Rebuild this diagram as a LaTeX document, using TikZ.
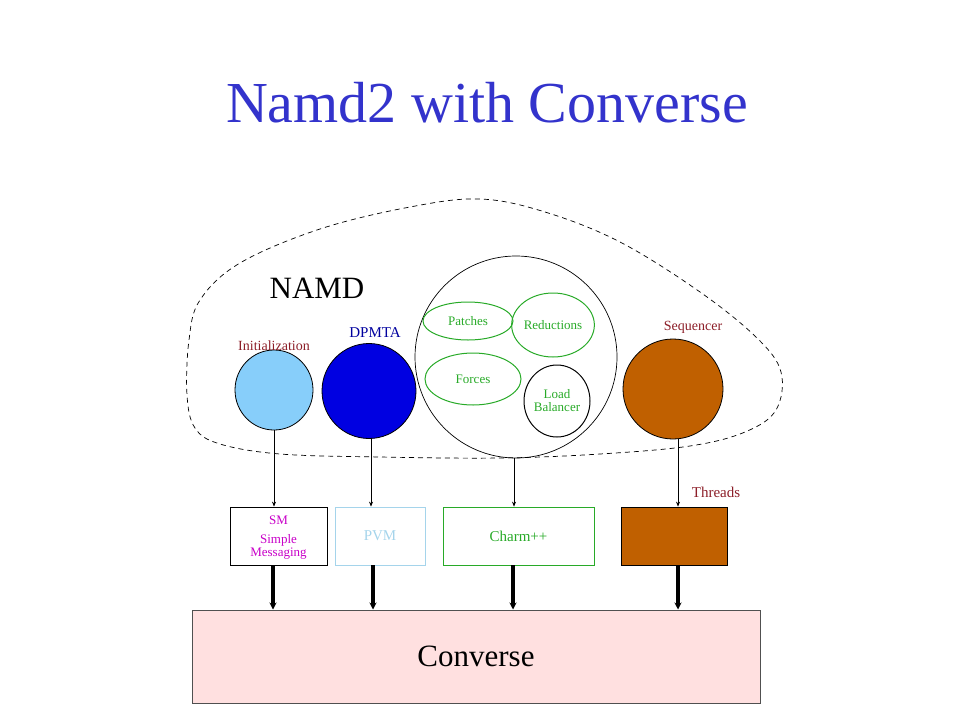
\documentclass[tikz,border=0pt]{standalone}
\usepackage{fontspec}
\setmainfont{Liberation Serif}
\usetikzlibrary{shapes.geometric,arrows.meta}
\definecolor{titleblue}{RGB}{51,51,204}
\definecolor{darkred}{RGB}{140,30,40}
\definecolor{lightblue}{RGB}{135,206,250}
\definecolor{dpblue}{RGB}{0,0,225}
\definecolor{seqorange}{RGB}{192,96,0}
\definecolor{fgreen}{RGB}{40,170,40}
\definecolor{smmag}{RGB}{200,0,200}
\definecolor{pvmblue}{RGB}{165,212,235}
\definecolor{convpink}{RGB}{255,224,224}
\definecolor{convborder}{RGB}{80,80,80}
\tikzset{
  blob/.style={ellipse,draw=black,line width=0.8pt,inner sep=0pt},
  sub/.style={ellipse,draw=fgreen,line width=1pt,inner sep=0pt,text=fgreen,font=\fontsize{13}{13}\selectfont,align=center},
  lbl/.style={text=darkred,font=\fontsize{14}{15}\selectfont,inner sep=0pt},
  layer/.style={draw,line width=0.8pt,minimum height=58pt,inner sep=0pt,font=\fontsize{15}{16}\selectfont,align=center},
  thin/.style={line width=0.6pt,-{Stealth[length=5pt,width=4pt]}},
  thick/.style={line width=3.5pt,-{Stealth[length=7pt,width=7pt]}}
}
\begin{document}
\begin{tikzpicture}[x=1pt,y=-1pt]
\useasboundingbox (0,0) rectangle (960,720);
% title
\node[text=titleblue,font=\fontsize{58}{60}\selectfont] (title) at (487,103) {Namd2 with Converse};
% dashed outline
\draw[dashed,line width=0.7pt,dash pattern=on 5pt off 4pt] plot[smooth cycle,tension=0.6] coordinates {
(480,199) (545,212) (620,242) (700,292) (757,338) (781,372) (776,410) (745,432) (690,446) (600,454) (500,458) (380,457) (280,454) (220,444) (195,428) (187,395) (189,340) (200,300) (240,263) (320,229) (410,207)};
\node[font=\fontsize{31}{33}\selectfont] (namd) at (317,288) {NAMD};
% circles
\node[blob,fill=lightblue,minimum width=78pt,minimum height=80pt] (init) at (274,390) {};
\node[lbl] (initl) at (274,346) {Initialization};
\node[blob,fill=dpblue,minimum width=94pt,minimum height=95pt] (dp) at (369,391) {};
\node[lbl,text=dpblue!70!black,font=\fontsize{15}{16}\selectfont] (dpl) at (375,333) {DPMTA};
\node[blob,line width=0.7pt,minimum width=202pt,minimum height=202pt] (big) at (516,357) {};
\node[sub,minimum width=90pt,minimum height=38pt] (patches) at (468,321) {Patches};
\node[sub,minimum width=70pt,minimum height=64pt] (red) at (553,325) {Reductions};
\node[sub,minimum width=96pt,minimum height=52pt] (forces) at (473,379) {Forces};
\node[sub,draw=black,minimum width=66pt,minimum height=72pt] (lb) at (557,401) {Load\\Balancer};
\node[blob,fill=seqorange,minimum width=100pt,minimum height=100pt] (seq) at (673,389) {};
\node[lbl] (seql) at (693,327) {Sequencer};
% layer boxes
\node[layer,minimum width=97pt] (sm) at (278.5,536) {};
\node[text=smmag,font=\fontsize{13}{13}\selectfont,align=center,inner sep=0pt] (smt) at (278.5,538) {SM\\[6pt]Simple\\Messaging};
\node[layer,draw=pvmblue,text=pvmblue,minimum width=90pt] (pvm) at (380,536) {PVM};
\node[layer,draw=fgreen,text=fgreen,minimum width=151pt] (ch) at (518.5,536) {Charm++};
\node[layer,fill=seqorange,minimum width=106pt] (thr) at (674,536) {};
\node[lbl,font=\fontsize{15}{16}\selectfont] (thrl) at (716,492) {Threads};
% converse
\node[draw=convborder,fill=convpink,line width=1pt,minimum width=568pt,minimum height=93pt,inner sep=0pt,font=\fontsize{31}{33}\selectfont] (conv) at (476,656.5) {Converse};
% thin arrows
\draw[thin] (init.south) -- (init.south |- sm.north);
\draw[thin] ([xshift=2pt]dp.south) -- ([xshift=2pt]dp.south |- pvm.north);
\draw[thin] ([xshift=-2pt]big.south) -- ([xshift=-2pt]big.south |- ch.north);
\draw[thin] ([xshift=5pt]seq.south) -- ([xshift=5pt]seq.south |- thr.north);
% thick arrows
\draw[thick] ([xshift=-1pt]init.south |- sm.south) -- ([xshift=-1pt]init.south |- conv.north);
\draw[thick] ([xshift=4pt]dp.south |- pvm.south) -- ([xshift=4pt]dp.south |- conv.north);
\draw[thick] ([xshift=-3pt]big.south |- ch.south) -- ([xshift=-3pt]big.south |- conv.north);
\draw[thick] ([xshift=5pt]seq.south |- thr.south) -- ([xshift=5pt]seq.south |- conv.north);
\end{tikzpicture}
\end{document}
